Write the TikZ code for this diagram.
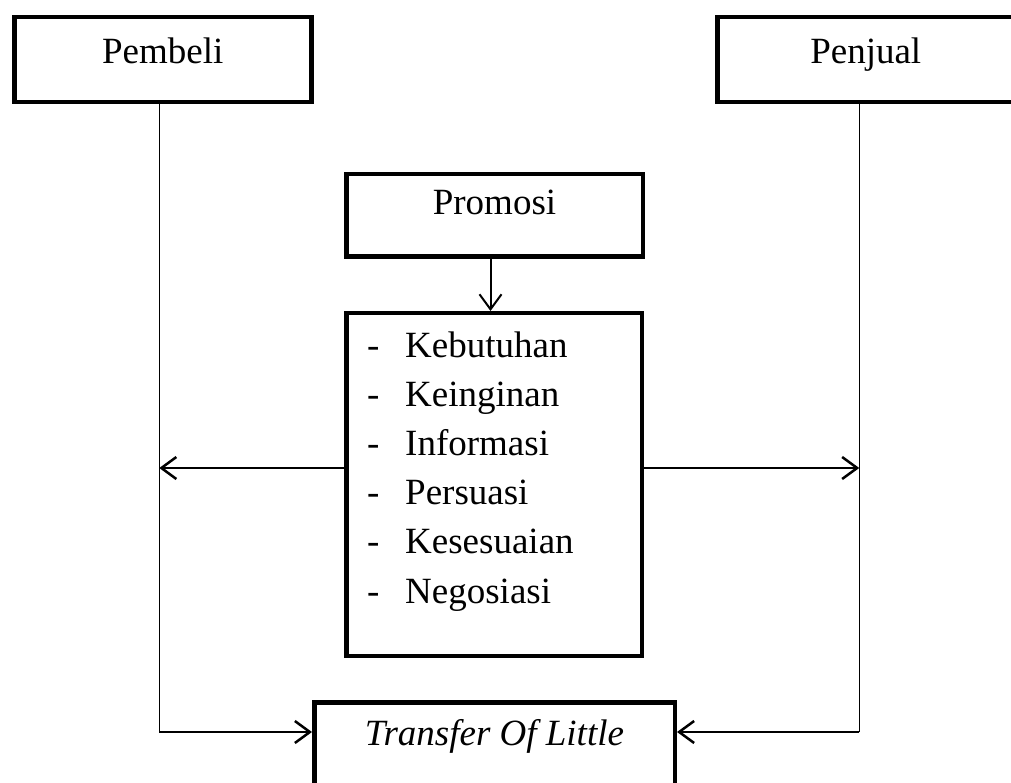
\documentclass[tikz,border=0pt]{standalone}
\usepackage{fontspec}
\setmainfont{Liberation Serif}
\usetikzlibrary{arrows.meta}
\begin{document}
\begin{tikzpicture}[x=1pt,y=-1pt,>={Straight Barb[length=15pt,width=22pt]},
        box/.style={draw,line width=4.5pt,inner sep=0pt,anchor=north west,
                font=\fontsize{37}{44}\selectfont},
        link/.style={line width=2.5pt},
        thinlink/.style={line width=1.3pt}]
        % fix the page
        \useasboundingbox (0,0) rectangle (1011,783);

        % draw the boxes
        \node[box,minimum width=297pt,text height=46pt,text depth=39pt] (pembeli) at (12,15) {Pembeli};
        \node[box,minimum width=297pt,text height=46pt,text depth=39pt] (penjual) at (715,15) {Penjual};
        \node[box,minimum width=296.5pt,text height=40.75pt,text depth=41.75pt] (promosi) at (344,172) {Promosi};
        \node[box,minimum width=295.5pt,minimum height=342.5pt] (list) at (344,311) {};
        \node[box,minimum width=360.5pt,text height=42.75pt,text depth=60pt,
                font=\fontsize{37}{44}\selectfont\itshape] (transfer) at (312,700) {Transfer Of Little};

        % the items inside the list box
        \foreach \entry [count=\i] in {Kebutuhan,Keinginan,Informasi,Persuasi,Kesesuaian,Negosiasi}
                \node[anchor=base west,inner sep=0pt,font=\fontsize{37}{44}\selectfont] (item\i)
                        at (367,{357+49.2*(\i-1)}) {\makebox[38pt][l]{-}\entry};

        % helper points for the connectors
        \coordinate (midlevel) at (0,468);
        \coordinate (lowlevel) at (0,732);
        \coordinate (pline) at ([xshift=-3.5pt]pembeli.south);
        \coordinate (sline) at ([xshift=-6.5pt]penjual.south);
        \coordinate (pdown) at ([xshift=-4pt]promosi.south);

        % draw the connectors
        \draw[link,line width=2pt,->] (pdown) -- (pdown |- list.north);
        \draw[thinlink] (pline) -- (pline |- lowlevel);
        \draw[thinlink] (sline) -- (sline |- lowlevel);
        \draw[link,->] (list.west |- midlevel) -- (pline |- midlevel);
        \draw[link,->] (list.east |- midlevel) -- (sline |- midlevel);
        \draw[link,->] (pline |- lowlevel) -- (transfer.west |- lowlevel);
        \draw[link,->] (sline |- lowlevel) -- (transfer.east |- lowlevel);
\end{tikzpicture}
\end{document}
